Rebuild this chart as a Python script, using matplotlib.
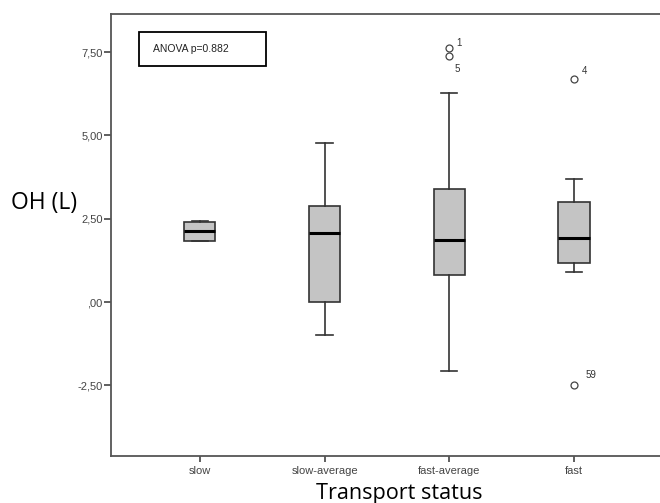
import matplotlib
matplotlib.use("Agg")
import matplotlib.pyplot as plt
from matplotlib.patches import Rectangle

# groups and box statistics
categorias = ["slow", "slow-average", "fast-average", "fast"]
mediana = [2.14, 2.07, 1.86, 1.92]
q1 = [1.84, 0.00, 0.81, 1.18]
q3 = [2.40, 2.89, 3.39, 3.00]
bigote_inf = [1.84, -0.99, -2.07, 0.91]
bigote_sup = [2.44, 4.78, 6.28, 3.69]
atipicos = [[], [], [7.62, 7.38], [6.69, -2.49]]
etiquetas_atipicos = [[], [], ["1", "5"], ["4", "59"]]
offsets_etiquetas = [[], [], [(5, 4), (4, -9)], [(6, 6), (8, 7)]]

yticks = [-2.5, 0.0, 2.5, 5.0, 7.5]
ytick_labels = ["-2,50", ",00", "2,50", "5,00", "7,50"]

fig = plt.figure(figsize=(6.6, 5.03), dpi=100)
ax = fig.add_axes([0.168, 0.0934, 0.8365, 0.8786])

stats = []
for i, c in enumerate(categorias):
    stats.append({
        "label": c, "med": mediana[i], "q1": q1[i], "q3": q3[i],
        "whislo": bigote_inf[i], "whishi": bigote_sup[i], "fliers": atipicos[i],
    })

pos = list(range(1, len(categorias) + 1))
ax.bxp(stats, positions=pos, widths=0.25, patch_artist=True,
       boxprops=dict(facecolor="#c4c4c4", edgecolor="#333333", linewidth=1.2),
       medianprops=dict(color="black", linewidth=2.2),
       whiskerprops=dict(color="#333333", linewidth=1.2),
       capprops=dict(color="#333333", linewidth=1.2),
       capwidths=0.13,
       flierprops=dict(marker="o", markerfacecolor="white", markeredgecolor="#444444",
                       markersize=5, markeredgewidth=0.9))

# numeros de caso junto a los atipicos
for i in range(len(categorias)):
    for v, lab, off in zip(atipicos[i], etiquetas_atipicos[i], offsets_etiquetas[i]):
        ax.annotate(lab, (pos[i], v), xytext=off, textcoords="offset points",
                    fontsize=7, color="#333333", family="Liberation Sans",
                    ha="left", va="center")

ax.set_xlim(0.286, 4.714)
ax.set_ylim(-4.62, 8.64)
ax.set_yticks(yticks)
ax.set_yticklabels(ytick_labels)
ax.set_xticks(pos)
ax.set_xticklabels(categorias)

for lab in ax.get_xticklabels() + ax.get_yticklabels():
    lab.set_family("Liberation Sans")
    lab.set_fontsize(8)
    lab.set_color("#444444")
ax.tick_params(axis="y", direction="out", length=5, width=1.2, color="#444444", pad=1)
ax.tick_params(axis="x", direction="out", length=4, width=1.2, color="#444444", pad=3)

for s in ax.spines.values():
    s.set_color("#555555")
    s.set_linewidth(1.3)
ax.spines["right"].set_visible(False)

# recuadro ANOVA
ax.add_patch(Rectangle((0.0507, 0.882), 0.230, 0.077, transform=ax.transAxes,
                       facecolor="white", edgecolor="black", linewidth=1.3))
ax.text(0.076, 0.921, "ANOVA p=0.882", transform=ax.transAxes, fontsize=7.5,
        family="Liberation Sans", color="#222222", va="center", ha="left")

fig.text(0.016, 0.597, "OH (L)", fontsize=16.5, family="Open Sans", va="center", ha="left")
fig.text(0.605, 0.018, "Transport status", fontsize=15.6, family="Open Sans",
         va="center", ha="center")

fig.savefig("out.png", dpi=100)
